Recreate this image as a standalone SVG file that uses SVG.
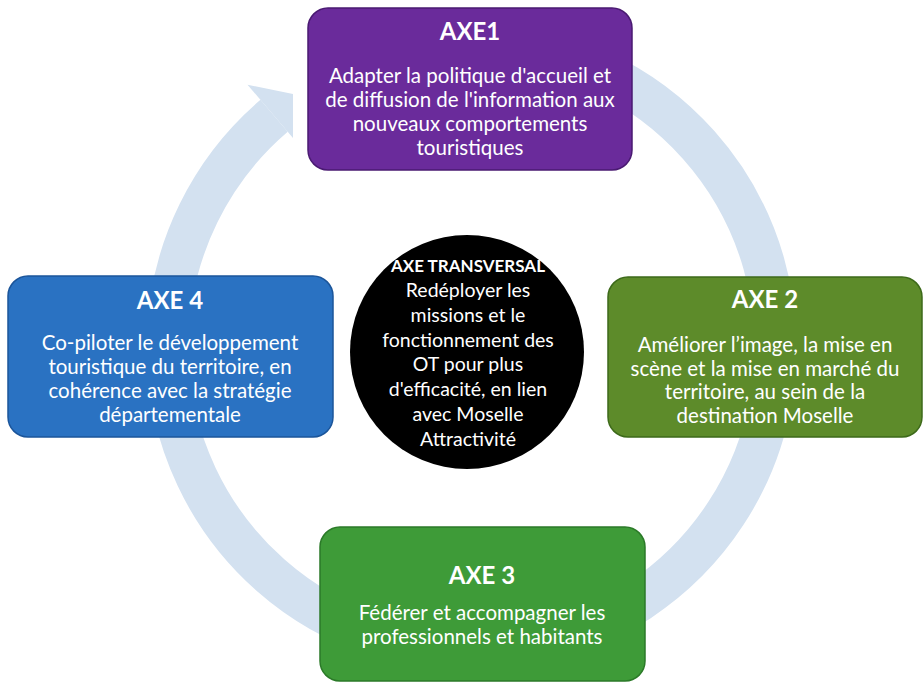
<svg xmlns="http://www.w3.org/2000/svg" width="924" height="683" viewBox="0 0 924 683">
  <style>
    .box { stroke-width: 1.5; }
    .title { font-family: Lato, "Liberation Sans", sans-serif; font-weight: bold; font-size: 24px; fill: #ffffff; text-anchor: middle; }
    .body { font-family: Lato, "Liberation Sans", sans-serif; font-size: 20.5px; fill: #ffffff; text-anchor: middle; }
    .cbody { font-family: Lato, "Liberation Sans", sans-serif; font-size: 19.5px; fill: #ffffff; text-anchor: middle; }
    .ctitle { font-family: Lato, "Liberation Sans", sans-serif; font-weight: bold; font-size: 17px; fill: #ffffff; text-anchor: middle; }
    .ring { fill: none; stroke: #d3e1f0; stroke-width: 42; }
    .head { fill: #d3e1f0; }
  </style>
  <defs>
    <clipPath id="headClip">
      <rect x="0" y="0" width="293" height="683"/>
    </clipPath>
  </defs>
  <rect x="0" y="0" width="924" height="683" fill="#ffffff"/>

  <g id="connectors">
    <path class="ring" d="M 600.0 71.5 A 304 304 0 1 1 274.1 115.8"/>
    <polygon class="head" clip-path="url(#headClip)" points="247.5,84.7 298.4,95.0 301.4,147.8"/>
  </g>

  <g id="axe1">
    <rect class="box" x="308" y="8" width="324" height="162" rx="20" fill="#6a2b9b" stroke="#4a1a72"/>
    <text class="title" x="470" y="40">AXE1</text>
    <text class="body" x="470" y="83">Adapter la politique d'accueil et</text>
    <text class="body" x="470" y="107">de diffusion de l'information aux</text>
    <text class="body" x="470" y="131">nouveaux comportements</text>
    <text class="body" x="470" y="155">touristiques</text>
  </g>

  <g id="axe2">
    <rect class="box" x="608" y="277" width="314" height="160" rx="20" fill="#5d8b2a" stroke="#3d6a1a"/>
    <text class="title" x="765" y="308">AXE 2</text>
    <text class="body" x="765" y="352">Améliorer l’image, la mise en</text>
    <text class="body" x="765" y="376">scène et la mise en marché du</text>
    <text class="body" x="765" y="399">territoire, au sein de la</text>
    <text class="body" x="765" y="423">destination Moselle</text>
  </g>

  <g id="axe3">
    <rect class="box" x="320" y="527" width="325" height="154" rx="20" fill="#3e9b38" stroke="#2b7a28"/>
    <text class="title" x="482" y="584">AXE 3</text>
    <text class="body" x="482" y="620">Fédérer et accompagner les</text>
    <text class="body" x="482" y="644">professionnels et habitants</text>
  </g>

  <g id="axe4">
    <rect class="box" x="8" y="276" width="325" height="161" rx="20" fill="#2a72c2" stroke="#1b559a"/>
    <text class="title" x="170" y="309">AXE 4</text>
    <text class="body" x="170" y="350">Co-piloter le développement</text>
    <text class="body" x="170" y="374">touristique du territoire, en</text>
    <text class="body" x="170" y="398">cohérence avec la stratégie</text>
    <text class="body" x="170" y="422">départementale</text>
  </g>

  <g id="axe-transversal">
    <circle cx="467" cy="352" r="117" fill="#000000"/>
    <text class="ctitle" x="468" y="272">AXE TRANSVERSAL</text>
    <text class="cbody" x="468" y="297">Redéployer les</text>
    <text class="cbody" x="468" y="322">missions et le</text>
    <text class="cbody" x="468" y="347">fonctionnement des</text>
    <text class="cbody" x="468" y="371">OT pour plus</text>
    <text class="cbody" x="468" y="396">d'efficacité, en lien</text>
    <text class="cbody" x="468" y="421">avec Moselle</text>
    <text class="cbody" x="468" y="446">Attractivité</text>
  </g>
</svg>
